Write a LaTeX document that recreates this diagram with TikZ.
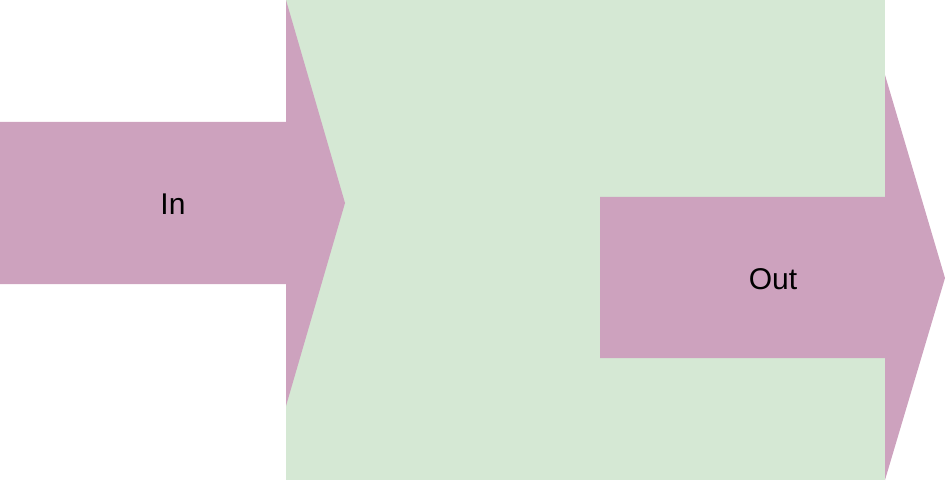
\documentclass[tikz,border=0pt]{standalone}
\usepackage{fontspec}
\setmainfont{Liberation Sans}
\usepackage{tikz}
\definecolor{flowpink}{HTML}{CDA2BE}
\definecolor{boxgreen}{HTML}{D5E8D4}

\begin{document}
\begin{tikzpicture}[
    x=1pt, y=1pt,
    stage/.style={fill=boxgreen, draw=none},
    flow/.style={fill=flowpink, draw=none},
    label/.style={font=\fontsize{30}{36}\selectfont, text=black, inner sep=0pt}
]
\useasboundingbox (0,0) rectangle (945,480);
% Process block
\fill[stage] (286,0) rectangle (885,480);

% Incoming arrow
\fill[flow] (0,358) -- (286,358) -- (286,480) -- (345,277) -- (286,74)
            -- (286,196) -- (0,196) -- cycle;
% Outgoing arrow
\fill[flow] (600,283) -- (885,283) -- (885,405) -- (945,202) -- (885,0)
            -- (885,122) -- (600,122) -- cycle;

% Labels
\node[label] (in) at (173,275.5) {In};
\node[label] (out) at (773,200.5) {Out};
\end{tikzpicture}
\end{document}
